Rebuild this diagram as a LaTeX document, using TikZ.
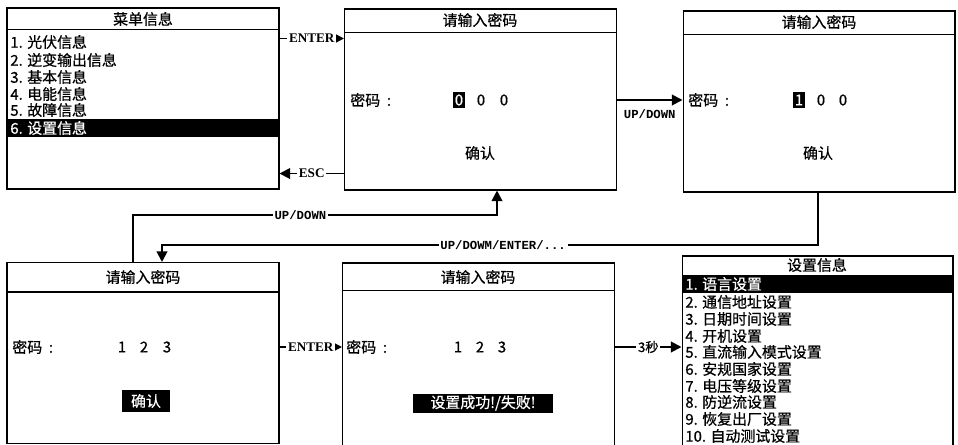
\documentclass[tikz,border=0pt]{standalone}
\usepackage{fontspec}
\setmainfont{Noto Sans CJK SC}[FakeBold=0.7]
\newfontfamily\latserif{Liberation Serif}
\newfontfamily\latmono{Liberation Mono}
\usetikzlibrary{arrows.meta,calc}

\begin{document}
\begin{tikzpicture}[x=0.02cm, y=-0.02cm,
    font=\fontsize{8.5pt}{10pt}\selectfont,
    screen/.style={rectangle, draw, line width=0.6pt, minimum width=5.44cm, minimum height=3.62cm, inner sep=0pt},
    heading/.style={inner sep=0pt},
    menuitem/.style={anchor=west, inner sep=0pt},
    hlbar/.style={fill=black, text=white, inner sep=0pt},
    keylabel/.style={fill=white, inner sep=1pt, font=\latserif\bfseries\fontsize{7.5pt}{8pt}\selectfont},
    keymono/.style={fill=white, inner sep=1pt, font=\latmono\bfseries\fontsize{7pt}{8pt}\selectfont},
    keycjk/.style={fill=white, inner sep=1pt, font=\fontsize{7.5pt}{8pt}\selectfont},
    arrow/.style={-{Triangle[length=6pt, width=6pt]}, line width=1.1pt}
]
\useasboundingbox (0,0) rectangle (958,444);

% screens
\node[screen] (scr1) at (143,98.5) {};
\node[screen] (scr2) at (480.5,99.5) {};
\node[screen] (scr3) at (819,101.5) {};
\node[screen] (scr4) at (143,353) {};
\node[screen, minimum height=3.74cm] (scr5) at (478.5,356.5) {};
\node[screen, minimum width=5.42cm, minimum height=3.92cm] (scr6) at (817.5,354) {};

\draw[line width=0.6pt] ($(scr1.north west)+(0,22)$) -- ($(scr1.north east)+(0,22)$);
\draw[line width=0.6pt] ($(scr2.north west)+(0,24)$) -- ($(scr2.north east)+(0,24)$);
\draw[line width=0.6pt] ($(scr3.north west)+(0,24)$) -- ($(scr3.north east)+(0,24)$);
\draw[line width=0.6pt] ($(scr4.north west)+(0,30)$) -- ($(scr4.north east)+(0,30)$);
\draw[line width=0.6pt] ($(scr5.north west)+(0,28)$) -- ($(scr5.north east)+(0,28)$);

% titles
\node[heading] (t1) at (143,19) {菜单信息};
\node[heading] (t2) at (480,20) {请输入密码};
\node[heading] (t3) at (819,22) {请输入密码};
\node[heading] (t4) at (143,277) {请输入密码};
\node[heading] (t5) at (478,277) {请输入密码};
\node[heading] (t6) at (817,265) {设置信息};

% menu
\node[hlbar, minimum width=5.44cm, minimum height=0.36cm] (hl1) at (143,128) {};
\node[menuitem] (m1) at (10,42) {1. 光伏信息};
\node[menuitem] (m2) at (10,60) {2. 逆变输出信息};
\node[menuitem] (m3) at (10,77) {3. 基本信息};
\node[menuitem] (m4) at (10,94) {4. 电能信息};
\node[menuitem] (m5) at (10,110) {5. 故障信息};
\node[menuitem, text=white] (m6) at (10,128) {6. 设置信息};

% password screens
\node[menuitem] (pw2) at (350,100) {密码\ \ :};
\node[hlbar, inner xsep=1pt, inner ysep=1.5pt] (d21) at (459,100) {0};
\node (d22) at (481,100) {0};
\node (d23) at (504,100) {0};
\node (ok2) at (480,153) {确认};

\node[menuitem] (pw3) at (688,100) {密码\ \ :};
\node[hlbar, inner xsep=1pt, inner ysep=1.5pt] (d31) at (799,100) {1};
\node (d32) at (821,100) {0};
\node (d33) at (843,100) {0};
\node (ok3) at (818,153) {确认};

\node[menuitem] (pw4) at (12,347) {密码\ \ :};
\node (d41) at (122,347) {1};
\node (d42) at (144,347) {2};
\node (d43) at (167,347) {3};
\node[hlbar, minimum width=0.96cm, minimum height=0.44cm] (ok4) at (146,401) {确认};

\node[menuitem] (pw5) at (346,347) {密码\ \ :};
\node (d51) at (458,347) {1};
\node (d52) at (480,347) {2};
\node (d53) at (502,347) {3};
\node[hlbar, minimum width=2.8cm, minimum height=0.38cm] (res5) at (483,403) {设置成功!/失败!};

% settings menu
\node[hlbar, minimum width=5.42cm, minimum height=0.36cm] (hl6) at (817.5,284) {};
\node[menuitem, text=white] (s1) at (685,284) {1. 语言设置};
\node[menuitem] (s2) at (685,302) {2. 通信地址设置};
\node[menuitem] (s3) at (685,319) {3. 日期时间设置};
\node[menuitem] (s4) at (685,336) {4. 开机设置};
\node[menuitem] (s5) at (685,352) {5. 直流输入模式设置};
\node[menuitem] (s6) at (685,369) {6. 安规国家设置};
\node[menuitem] (s7) at (685,386) {7. 电压等级设置};
\node[menuitem] (s8) at (685,402) {8. 防逆流设置};
\node[menuitem] (s9) at (685,419) {9. 恢复出厂设置};
\node[menuitem] (s10) at (685,436) {10. 自动测试设置};

% connectors
\coordinate (c1) at (133,215);
\coordinate (c2) at (497,215);
\coordinate (c3) at (818,245);
\coordinate (c4) at (162,245);

\draw[arrow] ($(scr1.north east)+(0,31)$) -- node[keylabel] (k1) {ENTER} ($(scr2.north west)+(0,30)$);
\draw[arrow] ($(scr2.south west)+(0,-17)$) -- node[keylabel] (k2) {ESC} ($(scr1.south east)+(0,-16)$);
\draw[arrow] (scr2.east |- pw2) -- node[keymono, below=4pt, fill=none] (k3) {UP/DOWN} (scr3.west |- pw2);
\draw[arrow] (scr3.south -| c3) -- (c3) -- node[keymono, pos=0.48] (k4) {UP/DOWM/ENTER/...} (c4) -- (scr4.north -| c4);
\draw[arrow] (scr4.north -| c1) -- (c1) -- node[keymono, pos=0.46] (k5) {UP/DOWN} (c2) -- (scr2.south -| c2);
\draw[arrow] (scr4.east |- pw4) -- node[keylabel] (k6) {ENTER} (scr5.west |- pw4);
\draw[arrow] (scr5.east |- pw5) -- node[keycjk] (k7) {3秒} (scr6.west |- pw5);
\end{tikzpicture}
\end{document}
